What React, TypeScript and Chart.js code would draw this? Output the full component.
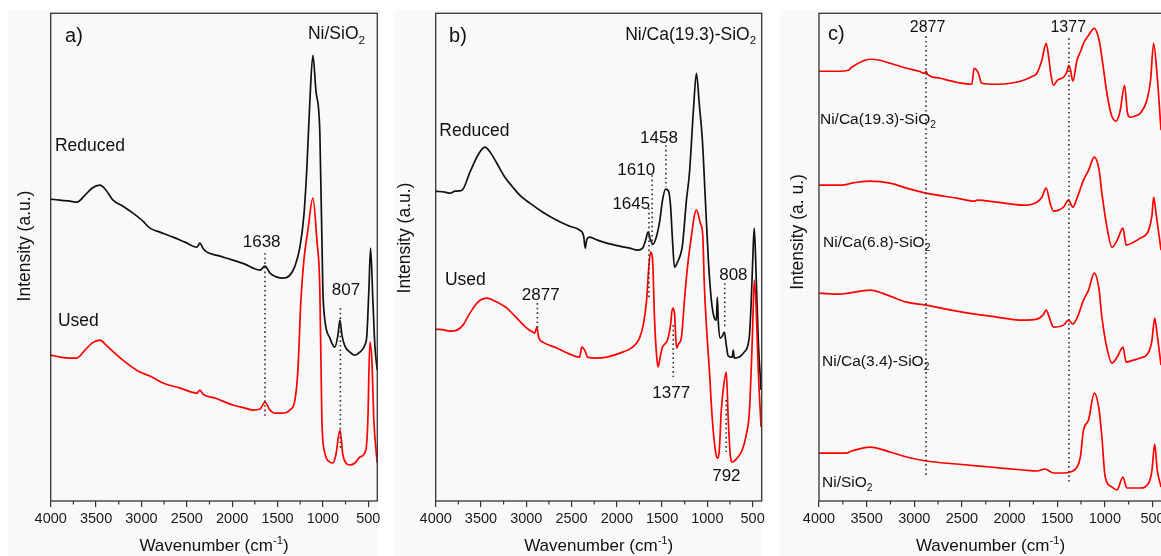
import React, { useEffect, useRef } from 'react';
import { Chart, registerables } from 'chart.js';

Chart.register(...registerables);

const FONT = '"Liberation Sans", Arial, Helvetica, sans-serif';
const RED = '#ff0000';
const BLACK = '#111111';
const H = 556;

// ---------- Data (wavenumber cm-1, intensity a.u.) ----------
// Panel a) Ni/SiO2
const aReducedWn = [4000,3898,3787,3713,3622,3545,3457,3390,3313,3203,3093,2983,2906,2795,2652,2520,2388,2355,2322,2277,2134,1991,1859,1770,1693,1638,1583,1506,1440,1363,1308,1253,1209,1176,1143,1110,1077,1033,1000,978,923,868,834,812,790,757,702,647,592,537,515,493,474,449,427,401];
const aReducedInt = [302,301,300,299,306,313,316,311,301,295,288,280,273,269,264,259,254,258,253,249,245,241,237,233,231,235,228,224,223,226,235,254,286,334,401,446,411,368,211,181,163,154,166,181,166,155,149,146,149,156,166,211,253,201,156,131];
const aUsedWn = [4000,3898,3787,3713,3622,3545,3457,3390,3269,3148,3016,2906,2763,2575,2388,2355,2322,2189,1991,1859,1770,1693,1638,1583,1528,1440,1363,1308,1275,1242,1209,1165,1110,1066,1033,1011,978,923,890,857,812,779,746,702,647,592,526,504,482,460,438,401];
const aUsedInt = [146,144,143,143,151,158,161,156,146,137,129,125,118,113,108,111,107,103,96,93,91,92,99,91,88,88,91,101,131,201,241,271,303,261,211,81,48,39,38,46,71,46,38,36,38,44,51,81,159,141,81,38];

// Panel b) Ni/Ca(19.3)-SiO2
const bReducedWn = [4000,3898,3842,3787,3710,3622,3534,3457,3391,3325,3236,3148,3060,2961,2817,2663,2520,2410,2366,2349,2333,2300,2211,2112,1969,1859,1770,1715,1682,1655,1627,1600,1561,1528,1495,1462,1429,1407,1385,1363,1330,1275,1231,1198,1154,1121,1088,1055,1022,989,956,923,901,890,879,857,835,813,791,769,725,714,703,648,593,537,515,493,482,460,438,407];
const bReducedInt = [310,309,308,310,311,329,346,354,348,338,324,314,305,298,289,281,275,271,265,253,261,264,261,258,255,253,251,253,261,269,261,257,265,279,301,312,310,296,261,234,239,256,301,328,391,428,396,361,301,241,201,183,181,204,179,163,165,169,156,145,144,151,143,144,149,164,201,256,273,221,161,111];
const bUsedWn = [4000,3898,3842,3765,3699,3622,3534,3435,3347,3214,3104,2994,2928,2906,2883,2861,2817,2663,2520,2410,2388,2355,2322,2223,2112,1936,1826,1749,1704,1671,1649,1627,1605,1583,1561,1545,1517,1495,1440,1407,1385,1363,1341,1319,1286,1253,1231,1187,1121,1077,1051,1033,1000,978,945,912,890,868,846,819,791,769,747,725,670,615,571,537,504,482,460,438,407];
const bUsedInt = [172,171,170,171,176,188,199,203,200,193,183,173,169,168,174,163,159,153,147,144,154,151,144,143,144,149,154,163,178,201,231,249,241,181,146,134,146,154,161,176,193,188,153,157,164,201,224,258,291,278,266,215,160,131,81,51,43,51,91,116,129,81,46,39,43,51,66,88,161,221,191,131,74];

// Panel c) used catalysts
const cCa193Wn = [4000,3780,3692,3657,3464,3360,3254,3079,2950,2890,2877,2860,2729,2554,2396,2372,2344,2327,2292,2134,1990,1854,1760,1713,1661,1616,1592,1565,1539,1500,1434,1400,1377,1360,1336,1292,1250,1224,1170,1111,1060,1031,978,930,880,838,793,762,733,663,628,558,520,488,453,410];
const cCa193Int = [430,430,431,434,442,441,438,433,430,428,430,427,423,419,417,433,431,428,418,417,418,421,425,428,441,458,446,426,416,421,424,429,436,431,420,441,451,458,466,473,461,444,408,386,380,391,416,388,384,386,388,401,421,458,428,371];
const cCa68Wn = [4000,3780,3700,3657,3464,3254,3079,2876,2554,2370,2340,2134,1854,1713,1661,1616,1574,1539,1434,1381,1336,1292,1224,1170,1111,1060,1031,978,925,870,810,776,700,628,540,505,488,460,410];
const cCa68Int = [316,316,317,318,320,318,313,308,303,300,301,299,296,299,304,313,298,290,294,301,294,303,321,331,344,331,308,274,254,261,273,256,259,263,271,286,304,286,251];
const cCa34Wn = [4000,3780,3692,3464,3254,3079,2876,2554,2204,1854,1713,1650,1616,1580,1539,1434,1381,1336,1292,1224,1171,1111,1060,1031,978,925,870,810,776,700,628,540,505,477,450,410];
const cCa34Int = [208,207,208,211,205,199,196,190,185,181,182,186,191,183,174,176,181,177,183,201,211,228,211,184,153,138,144,154,139,141,143,149,161,183,166,136];
const cNiWn = [4000,3715,3657,3464,3254,3079,2876,2554,2204,1854,1713,1626,1539,1434,1364,1292,1257,1224,1171,1111,1060,1031,996,925,873,810,769,628,540,505,477,450,410];
const cNiInt = [48,48,50,54,49,44,40,37,34,31,30,32,28,28,29,34,44,71,81,108,91,64,24,14,11,24,13,13,18,31,57,31,14];

// Axis ticks
const majorTicks = [4000, 3500, 3000, 2500, 2000, 1500, 1000, 500];
const minorTicks = [3750, 3250, 2750, 2250, 1750, 1250, 750];
const X_MIN = 400;
const X_MAX = 4000;
const Y_MIN = 0;
const Y_MAX = 488;

type Mode = '' | 'sub' | 'sup';
type Part = [string, Mode];
interface Label { parts: Part[]; wn: number; val: number; align: 'left' | 'center' | 'right'; size: number; }
interface Drop { wn: number; from: number; to: number; }
interface Series { wn: number[]; int: number[]; color: string; }
interface PanelCfg {
  key: string;
  canvasLeft: number; canvasWidth: number;
  plotLeft: number; plotRight: number;
  bgLeft: number; bgRight: number;
  yTitle: string; yTitleX: number; yTitleY: number;
  series: Series[];
  labels: Label[];
  drops: Drop[];
}

const T = (s: string): Part[] => [[s, '']];
const SUB2 = (s: string): Part[] => [[s, ''], ['2', 'sub']];

const panels: PanelCfg[] = [
  {
    key: 'a', canvasLeft: 0, canvasWidth: 390, plotLeft: 50.7, plotRight: 377.3, bgLeft: 8, bgRight: 378,
    yTitle: 'Intensity (a.u.)', yTitleX: 23.5, yTitleY: 246,
    series: [
      { wn: aUsedWn, int: aUsedInt, color: RED },
      { wn: aReducedWn, int: aReducedInt, color: BLACK },
    ],
    labels: [
      { parts: T('a)'), wn: 3842, val: 466, align: 'left', size: 20 },
      { parts: SUB2('Ni/SiO'), wn: 536, val: 468.5, align: 'right', size: 17.5 },
      { parts: T('Reduced'), wn: 3953, val: 357, align: 'left', size: 17.5 },
      { parts: T('Used'), wn: 3920, val: 181, align: 'left', size: 17.5 },
      { parts: T('1638'), wn: 1675, val: 260, align: 'center', size: 17 },
      { parts: T('807'), wn: 746, val: 212, align: 'center', size: 17 },
    ],
    drops: [
      { wn: 1638, from: 248, to: 84 },
      { wn: 807, from: 193, to: 51 },
    ],
  },
  {
    key: 'b', canvasLeft: 390, canvasWidth: 385, plotLeft: 435.7, plotRight: 761.7, bgLeft: 395, bgRight: 763,
    yTitle: 'Intensity (a.u.)', yTitleX: 403.5, yTitleY: 238,
    series: [
      { wn: bUsedWn, int: bUsedInt, color: RED },
      { wn: bReducedWn, int: bReducedInt, color: BLACK },
    ],
    labels: [
      { parts: T('b)'), wn: 3853, val: 466.5, align: 'left', size: 20 },
      { parts: SUB2('Ni/Ca(19.3)-SiO'), wn: 462, val: 468, align: 'right', size: 17.5 },
      { parts: T('Reduced'), wn: 3960, val: 372, align: 'left', size: 17.5 },
      { parts: T('Used'), wn: 3898, val: 222, align: 'left', size: 17.5 },
      { parts: T('1458'), wn: 1534, val: 364, align: 'center', size: 17 },
      { parts: T('1610'), wn: 1785, val: 332.5, align: 'center', size: 17 },
      { parts: T('1645'), wn: 1840, val: 298.5, align: 'center', size: 17 },
      { parts: T('2877'), wn: 2840, val: 207, align: 'center', size: 17 },
      { parts: T('808'), wn: 713, val: 227.5, align: 'center', size: 17 },
      { parts: T('1377'), wn: 1399, val: 109.5, align: 'center', size: 17 },
      { parts: T('792'), wn: 790, val: 26, align: 'center', size: 17 },
    ],
    drops: [
      { wn: 1458, from: 356, to: 314 },
      { wn: 1610, from: 326, to: 256 },
      { wn: 1645, from: 293, to: 204 },
      { wn: 2877, from: 198, to: 173 },
      { wn: 808, from: 218, to: 174 },
      { wn: 1377, from: 176, to: 124 },
      { wn: 792, from: 101, to: 49 },
    ],
  },
  {
    key: 'c', canvasLeft: 780, canvasWidth: 400, plotLeft: 819, plotRight: 1162, bgLeft: 780, bgRight: 1161,
    yTitle: 'Intensity (a. u.)', yTitleX: 796.5, yTitleY: 232,
    series: [
      { wn: cCa193Wn, int: cCa193Int, color: RED },
      { wn: cCa68Wn, int: cCa68Int, color: RED },
      { wn: cCa34Wn, int: cCa34Int, color: RED },
      { wn: cNiWn, int: cNiInt, color: RED },
    ],
    labels: [
      { parts: T('c)'), wn: 3905, val: 468.5, align: 'left', size: 20 },
      { parts: T('2877'), wn: 2860, val: 475, align: 'center', size: 16 },
      { parts: T('1377'), wn: 1384, val: 475, align: 'center', size: 16 },
      { parts: SUB2('Ni/Ca(19.3)-SiO'), wn: 3990, val: 383, align: 'left', size: 15.5 },
      { parts: SUB2('Ni/Ca(6.8)-SiO'), wn: 3958, val: 260, align: 'left', size: 15.5 },
      { parts: SUB2('Ni/Ca(3.4)-SiO'), wn: 3968, val: 141, align: 'left', size: 15.5 },
      { parts: SUB2('Ni/SiO'), wn: 3968, val: 20, align: 'left', size: 15.5 },
    ],
    drops: [
      { wn: 2877, from: 465, to: 26 },
      { wn: 1377, from: 463, to: 19 },
    ],
  },
];

function drawRich(ctx: CanvasRenderingContext2D, parts: Part[], x: number, y: number, align: string, size: number, color: string) {
  const small = size * 0.66;
  const widths = parts.map(([t, m]) => {
    ctx.font = `${m ? small : size}px ${FONT}`;
    return ctx.measureText(t).width;
  });
  const total = widths.reduce((a, b) => a + b, 0);
  let cx = align === 'left' ? x : align === 'right' ? x - total : x - total / 2;
  const base = y + size * 0.36;
  ctx.fillStyle = color;
  ctx.textAlign = 'left';
  ctx.textBaseline = 'alphabetic';
  parts.forEach(([t, m], i) => {
    ctx.font = `${m ? small : size}px ${FONT}`;
    const dy = m === 'sub' ? size * 0.28 : m === 'sup' ? -size * 0.4 : 0;
    ctx.fillText(t, cx, base + dy);
    cx += widths[i];
  });
}

function Panel({ cfg }: { cfg: PanelCfg }) {
  const ref = useRef<HTMLCanvasElement>(null);
  useEffect(() => {
    const canvas = ref.current;
    if (!canvas) return;
    const deco = {
      id: 'deco' + cfg.key,
      afterDraw(chart: any) {
        const ctx: CanvasRenderingContext2D = chart.ctx;
        const { left, right, top, bottom } = chart.chartArea;
        const xs = chart.scales.x;
        const ys = chart.scales.y;
        ctx.save();
        // frame
        ctx.strokeStyle = '#333';
        ctx.lineWidth = 1.3;
        ctx.strokeRect(left, top, right - left, bottom - top);
        // minor ticks
        ctx.lineWidth = 1.2;
        ctx.beginPath();
        minorTicks.forEach((v) => {
          const px = xs.getPixelForValue(v);
          ctx.moveTo(px, bottom);
          ctx.lineTo(px, bottom + 3.5);
        });
        ctx.stroke();
        // dotted drop lines
        ctx.strokeStyle = '#333';
        ctx.lineWidth = 1.6;
        ctx.setLineDash([1.6, 3]);
        cfg.drops.forEach((d) => {
          const px = xs.getPixelForValue(d.wn);
          ctx.beginPath();
          ctx.moveTo(px, ys.getPixelForValue(d.from));
          ctx.lineTo(px, ys.getPixelForValue(d.to));
          ctx.stroke();
        });
        ctx.setLineDash([]);
        // labels
        cfg.labels.forEach((l) => {
          drawRich(ctx, l.parts, xs.getPixelForValue(l.wn), ys.getPixelForValue(l.val), l.align, l.size, '#111');
        });
        // x title
        drawRich(ctx, [['Wavenumber (cm', ''], ['-1', 'sup'], [')', '']], (left + right) / 2, 545, 'center', 17, '#111');
        // y title
        ctx.translate(cfg.yTitleX - cfg.canvasLeft, cfg.yTitleY);
        ctx.rotate(-Math.PI / 2);
        drawRich(ctx, T(cfg.yTitle), 0, 0, 'center', 17.5, '#111');
        ctx.restore();
      },
    };
    const chart = new Chart(canvas, {
      type: 'line',
      data: {
        datasets: cfg.series.map((s) => ({
          data: s.wn.map((x, i) => ({ x, y: s.int[i] })),
          borderColor: s.color,
          backgroundColor: s.color,
          borderWidth: 1.7,
          pointRadius: 0,
          fill: false,
          cubicInterpolationMode: 'monotone' as const,
        })),
      },
      options: {
        animation: false,
        responsive: false,
        maintainAspectRatio: false,
        devicePixelRatio: 1,
        events: [],
        layout: {
          padding: {
            left: cfg.plotLeft - cfg.canvasLeft,
            right: cfg.canvasLeft + cfg.canvasWidth - cfg.plotRight,
            top: 13.3,
            bottom: 0,
          },
        },
        plugins: { legend: { display: false }, tooltip: { enabled: false } },
        scales: {
          x: {
            type: 'linear',
            reverse: true,
            min: X_MIN,
            max: X_MAX,
            afterBuildTicks: (s: any) => { s.ticks = majorTicks.map((v) => ({ value: v })); },
            afterFit: (s: any) => { s.height = 55; },
            ticks: {
              font: { family: FONT, size: 14.5 },
              color: '#1a1a1a',
              padding: 3,
              maxRotation: 0,
              autoSkip: false,
              callback: (v: any) => String(v),
            },
            grid: { display: true, drawOnChartArea: false, drawTicks: true, tickLength: 6, color: '#333', lineWidth: 1.2 },
            border: { display: false },
          },
          y: { display: false, min: Y_MIN, max: Y_MAX },
        },
      } as any,
      plugins: [deco],
    });
    return () => chart.destroy();
  }, [cfg]);
  return (
    <canvas
      ref={ref}
      width={cfg.canvasWidth}
      height={H}
      style={{ position: 'absolute', left: cfg.canvasLeft, top: 0, width: cfg.canvasWidth, height: H }}
    />
  );
}

export default function App() {
  return (
    <div style={{ position: 'absolute', left: 0, top: 0, width: 1161, height: H, overflow: 'hidden', background: '#ffffff' }}>
      {panels.map((p) => (
        <div
          key={'bg' + p.key}
          style={{ position: 'absolute', left: p.bgLeft, top: 10, width: p.bgRight - p.bgLeft, height: H - 10, background: '#f9f9f9' }}
        />
      ))}
      {panels.map((p) => (
        <Panel key={p.key} cfg={p} />
      ))}
    </div>
  );
}
